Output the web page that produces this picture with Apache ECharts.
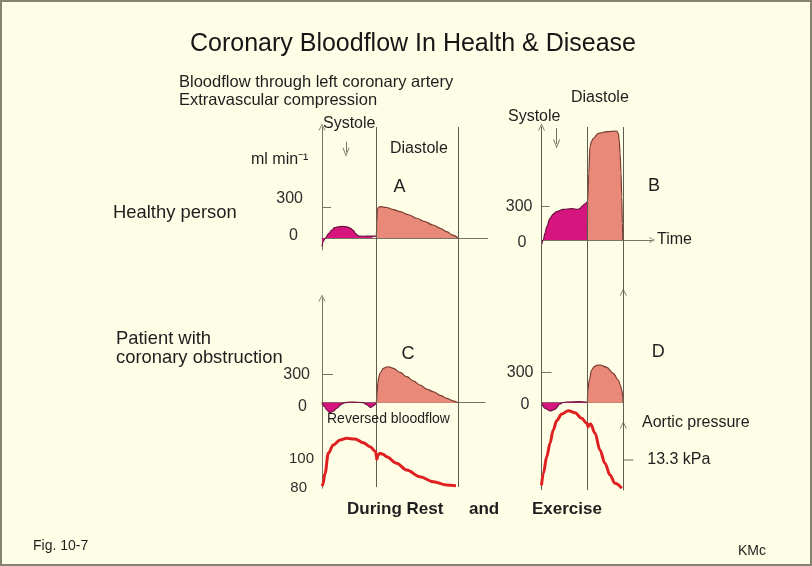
<!DOCTYPE html>
<html><head><meta charset="utf-8">
<script src="https://cdn.jsdelivr.net/npm/echarts@6/dist/echarts.min.js"></script>
<style>
html,body{margin:0;padding:0;background:#FEFDE6;}
#wrap{position:relative;width:812px;height:566px;}
#c{width:812px;height:566px;}
#frame{position:absolute;left:0;top:0;width:812px;height:566px;box-sizing:border-box;border:2px solid #85836f;pointer-events:none;}
</style></head><body>
<div id="wrap"><div id="c"></div><div id="frame"></div></div>
<script>
// ---- data (time in ms within a cardiac cycle, flow in ml/min, pressure in mmHg) ----
const restCycle = [320, 800];          // end of systole, end of cycle (rest)
const exerciseCycle = [0, 270, 481];   // start, end of systole, end of cycle (exercise)
const flowTickValues = [0, 300];
const pressureTickValues = [80, 100];
const kPaTickValue = 13.3 * 7.50062;   // 13.3 kPa in mmHg
const kPaTickLabel = '13.3 kPa';

const healthyRestSystole = [[0,-80],[8,-30],[20,0],[40,45],[57,77],[75,100],[94,108],[120,112],[145,109],[165,97],[182,77],[200,40],[212,20],[240,17],[290,18],[320,19]];
const healthyRestDiastole = [[320,0],[322,150],[326,280],[335,300],[345,303],[380,295],[420,275],[460,255],[510,225],[557,191],[600,162],[653,126],[700,90],[733,61],[770,28],[800,0]];
const healthyExSystole = [[0,-45],[11,0],[20,60],[31,120],[50,195],[70,235],[89,255],[128,276],[178,282],[216,276],[228,285],[236,300],[255,325],[270,345]];
const healthyExDiastole = [[270,0],[271,345],[278,600],[285,840],[295,890],[305,915],[334,960],[384,975],[442,981],[452,960],[458,880],[462,780],[468,600],[472,390],[476,150],[478,0]];
const obstructRestSystole = [[0,0],[15,-40],[28,-77],[47,-106],[65,-90],[86,-59],[116,-14],[135,2],[165,7],[210,5],[243,0],[263,-21],[286,-49],[306,-27],[320,0]];
const obstructRestDiastole = [[320,0],[324,100],[328,205],[334,270],[341,310],[361,363],[384,380],[400,375],[419,363],[460,320],[498,275],[540,228],[576,187],[620,140],[655,116],[700,75],[733,46],[770,20],[800,0]];
const obstructExSystole = [[0,0],[21,-56],[50,-83],[79,-66],[109,-13],[126,2],[148,7],[226,10],[260,5],[270,0]];
const obstructExDiastole = [[270,0],[272,120],[281,227],[295,327],[310,360],[325,374],[344,377],[384,354],[422,294],[452,227],[465,170],[472,127],[478,60],[481,0]];
const aorticRest = [[0,81.5],[4,82.3],[18,90.2],[37,103.9],[66,109.6],[106,113.0],[145,114.1],[194,113.7],[243,111.1],[282,108.4],[316,105.0],[320,101.5],[322,99.8],[330,102.5],[341,103.9],[360,103.2],[380,101.6],[439,97.1],[498,92.5],[576,87.9],[655,84.5],[733,82.3],[788,81.8]];
const aorticExercise = [[0,82],[11,90.2],[31,101.6],[50,110.7],[69,119.8],[89,126.1],[119,130.7],[158,133.0],[197,131.6],[236,127.8],[266,124.4],[275,122.0],[280,123.5],[289,123.9],[315,117.5],[344,106.1],[373,97.1],[403,89.1],[432,83.4],[472,80.0]];
// annotation arrows (time, flow) start -> end
const systoleArrowRest = [[141,932],[141,830]];
const systoleArrowEx = [[89,1008],[89,864]];
const diastoleArrowEx = [[305,1200],[305,1056]];

// ---- styles ----
const FONT = '"Liberation Sans", Arial, Helvetica, sans-serif';
const AX = '#77755f';
const DIV = '#5f5d4e';
const CHEV = 'path://M0,10 L5,0 L10,10 L8.6,10 L5,2.6 L1.4,10 Z';
const MAG = '#D6157E', MAGL = '#6e1040';
const SAL = '#E9897A', SALL = '#7a3d2e';
const RED = '#DE2020';
const TXT = '#1e1e1e';

function flowFmt(v){ return v === 0 ? '{z|0}' : '{h|' + v + '}'; }
function flowLabel(margin, hPad, zPad, fs){
  return {show:true, customValues: flowTickValues, margin: margin, formatter: flowFmt,
    rich:{h:{fontSize:fs||16,color:'#2e2e2e',fontFamily:FONT,padding:hPad},
          z:{fontSize:fs||16,color:'#2e2e2e',fontFamily:FONT,padding:zPad}}};
}
function axLine(arrow){
  const o = {show:true, onZero:false, lineStyle:{color:AX, width:1}};
  if (arrow){ o.symbol = ['none', CHEV]; o.symbolSize = [7,9]; }
  return o;
}
function hiddenX(gi, max){ return {gridIndex:gi, type:'value', min:0, max:max, show:false}; }
function flowX(gi, max, extra){
  return Object.assign({gridIndex:gi, type:'value', min:0, max:max,
    axisLine:{show:true, onZero:true, lineStyle:{color:AX, width:1}},
    axisTick:{show:false}, axisLabel:{show:false}, splitLine:{show:false}}, extra||{});
}
function arrowLine(pair){
  return {silent:true, symbol:['none', CHEV], symbolSize:[7,9], animation:false,
    label:{show:false}, lineStyle:{color:AX, width:1, type:'solid'},
    data:[[{coord:pair[0]},{coord:pair[1]}]]};
}
function flowSeries(xi, yi, data, fill, line, extra){
  return Object.assign({type:'line', xAxisIndex:xi, yAxisIndex:yi, data:data, smooth:0.35,
    smoothMonotone:'x', showSymbol:false, symbol:'none', clip:false, silent:true,
    lineStyle:{color:line, width:1.2}, areaStyle:{color:fill, opacity:1}, z:3}, extra||{});
}
function divider(xi, yi, xs){
  return {type:'line', xAxisIndex:xi, yAxisIndex:yi, data:[[0,0]], showSymbol:false, symbol:'none',
    lineStyle:{opacity:0}, silent:true, z:4,
    markLine:{silent:true, symbol:['none','none'], animation:false, label:{show:false},
      lineStyle:{color:DIV, width:1, type:'solid'}, data: xs.map(v => ({xAxis:v}))}};
}
function txt(text, x, y, size, opts){
  return {type:'text', x:x, y:y, silent:true, z:10,
    style:Object.assign({text:text, fontSize:size, fontFamily:FONT, fill:TXT,
      align:'left', verticalAlign:'middle'}, opts||{})};
}

const G = (l,t,w,h) => ({left:l, top:t, width:w, height:h, outerBoundsMode:'none', containLabel:false});

const option = {
  animation:false,
  backgroundColor:'#FEFDE6',
  grid:[
    G(322,127,165.75,123),   // 0 A
    G(541.5,127,110.5,123),  // 1 B
    G(322,298,163.2,116),    // 2 C
    G(541.5,292,81.77,122),  // 3 D
    G(322,409.2,136,79.1),   // 4 aortic rest
    G(541.5,425,81.77,65),   // 5 aortic exercise
    G(322,127,136,360),      // 6 rest dividers
    G(541.5,127,81.77,363)   // 7 exercise dividers
  ],
  xAxis:[
    flowX(0, 975),
    flowX(1, 650, {axisLine:{show:true,onZero:true,symbol:['none',CHEV],symbolSize:[6,8],lineStyle:{color:AX,width:1}},
      name:'Time', nameLocation:'end', nameGap:5,
      nameTextStyle:{fontSize:16, color:TXT, fontFamily:FONT, align:'left', verticalAlign:'middle'}}),
    flowX(2, 960),
    flowX(3, 481),
    hiddenX(4, 800),
    hiddenX(5, 481),
    hiddenX(6, 800),
    hiddenX(7, 481)
  ],
  yAxis:[
    {gridIndex:0, type:'value', min:-116, max:1074, axisLine:axLine(true),
     axisTick:{show:true, inside:true, length:9, customValues:[300], lineStyle:{color:AX}},
     axisLabel:flowLabel(19,[0,0,16,0],[0,5,4,0]), splitLine:{show:false}},
    {gridIndex:1, type:'value', min:-90, max:1017, axisLine:axLine(true),
     axisTick:{show:true, inside:true, length:8, customValues:[300], lineStyle:{color:AX}},
     axisLabel:flowLabel(9,[0,0,0,0],[6,6,0,0]), splitLine:{show:false}},
    {gridIndex:2, type:'value', min:-119, max:1106, axisLine:axLine(true),
     axisTick:{show:true, inside:true, length:11, customValues:[300], lineStyle:{color:AX}},
     axisLabel:flowLabel(12,[0,0,0,0],[8,3,0,0]), splitLine:{show:false}},
    {gridIndex:3, type:'value', min:-113, max:1107, axisLine:axLine(false),
     axisTick:{show:true, inside:true, length:10, customValues:[300], lineStyle:{color:AX}},
     axisLabel:flowLabel(8,[0,0,0,0],[4,4,0,0]), splitLine:{show:false}},
    {gridIndex:3, type:'value', position:'right', min:-113, max:1107, axisLine:axLine(true),
     axisTick:{show:false}, axisLabel:{show:false}, splitLine:{show:false}},
    {gridIndex:4, type:'value', min:80, max:134, axisLine:axLine(false),
     axisTick:{show:false}, splitLine:{show:false},
     axisLabel:{show:true, customValues:pressureTickValues, margin:8,
       formatter: v => v === 80 ? '{e|80}' : '{h|' + v + '}',
       rich:{h:{fontSize:15,color:'#2e2e2e',fontFamily:FONT}, e:{fontSize:15,color:'#2e2e2e',fontFamily:FONT,padding:[0,7,0,0]}}}},
    {gridIndex:5, type:'value', position:'right', min:78.8, max:123.2, axisLine:axLine(true),
     axisTick:{show:true, inside:false, length:10, customValues:[kPaTickValue], lineStyle:{color:'#9a9886', width:1.5}},
     axisLabel:{show:true, customValues:[kPaTickValue], margin:24, formatter:() => kPaTickLabel,
       fontSize:16, color:TXT, fontFamily:FONT}, splitLine:{show:false}},
    {gridIndex:6, type:'value', min:0, max:1, show:false},
    {gridIndex:7, type:'value', min:0, max:1, show:false}
  ],
  series:[
    flowSeries(0,0,healthyRestSystole,MAG,MAGL,{markLine:arrowLine(systoleArrowRest)}),
    flowSeries(0,0,healthyRestDiastole,SAL,SALL),
    flowSeries(1,1,healthyExSystole,MAG,MAGL,{markLine:arrowLine(systoleArrowEx)}),
    flowSeries(1,1,healthyExDiastole,SAL,SALL,{markLine:arrowLine(diastoleArrowEx)}),
    flowSeries(2,2,obstructRestSystole,MAG,MAGL),
    flowSeries(2,2,obstructRestDiastole,SAL,SALL),
    flowSeries(3,3,obstructExSystole,MAG,MAGL),
    flowSeries(3,3,obstructExDiastole,SAL,SALL),
    {type:'line', xAxisIndex:4, yAxisIndex:5, data:aorticRest, smooth:0.35, smoothMonotone:'x',
     showSymbol:false, symbol:'none', clip:false, silent:true, lineStyle:{color:RED, width:3}, z:5},
    {type:'line', xAxisIndex:5, yAxisIndex:6, data:aorticExercise, smooth:0.35, smoothMonotone:'x',
     showSymbol:false, symbol:'none', clip:false, silent:true, lineStyle:{color:RED, width:3}, z:5},
    divider(6, 7, restCycle),
    divider(7, 8, exerciseCycle)
  ],
  graphic:[
    txt('Coronary Bloodflow In Health & Disease', 413, 44, 25, {align:'center', fill:'#161616'}),
    txt('Bloodflow through left coronary artery', 179, 82, 16.5),
    txt('Extravascular compression', 179, 100, 16.5),
    txt('Systole', 323, 124, 16),
    txt('Diastole', 390, 149, 16),
    txt('Systole', 508, 117, 16),
    txt('Diastole', 571, 97.5, 16),
    txt('ml min⁻¹', 251, 160, 16),
    txt('A', 399.5, 187.5, 18, {align:'center'}),
    txt('B', 654, 186, 18, {align:'center'}),
    txt('C', 408, 354, 18, {align:'center'}),
    txt('D', 658.3, 352.5, 18, {align:'center'}),
    txt('Healthy person', 113, 213, 18.4),
    txt('Patient with', 116, 339, 18.4),
    txt('coronary obstruction', 116, 358, 18.4),
    txt('Reversed bloodflow', 327, 419, 14),
    txt('Aortic pressure', 642, 423, 16),
    txt('During Rest', 347, 509, 17, {fontWeight:'bold'}),
    txt('and', 469, 509, 17, {fontWeight:'bold'}),
    txt('Exercise', 532, 509, 17, {fontWeight:'bold'}),
    txt('Fig. 10-7', 33, 546, 14),
    txt('KMc', 738, 551, 14)
  ]
};
const chart = echarts.init(document.getElementById('c'), null, {renderer:'canvas'});
chart.setOption(option);
</script>
</body></html>
